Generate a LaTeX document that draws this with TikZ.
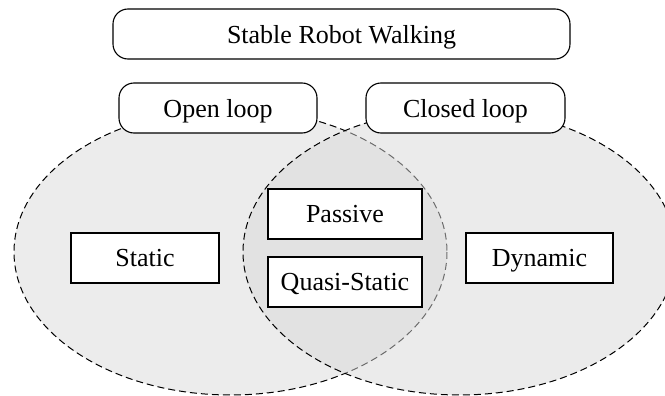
\documentclass[tikz,border=0pt]{standalone}
\usepackage{fontspec}
\setmainfont{Liberation Serif}
\definecolor{lgrey}{RGB}{236,236,236}
\begin{document}
\begin{tikzpicture}[x=0.5pt,y=-0.5pt,
  box/.style={draw,fill=white,line width=0.55pt,minimum height=25pt,inner sep=0pt,text depth=0pt,font=\fontsize{13}{15}\selectfont},
  rbox/.style={box,rounded corners=7.5pt},
  venn/.style={draw,dash pattern=on 3.5pt off 2pt,line width=0.5pt}]
\useasboundingbox (0,0) rectangle (665,396);
\clip (0,0) rectangle (665,396);
\fill[white] (0,0) rectangle (665,396);
\draw[venn,fill=lgrey] (230.5,252) ellipse [x radius=216.5, y radius=143];
\draw[venn,fill=black!15,fill opacity=0.5] (459.5,252) ellipse [x radius=216.5, y radius=143];
\node[rbox,minimum width=228.5pt] (top) at (341.5,34) {Stable Robot Walking};
\node[rbox,minimum width=99pt] (open) at (218,108) {Open loop};
\node[rbox,minimum width=99.5pt] (closed) at (465.5,108) {Closed loop};
\node[box,minimum width=74pt] (static) at (145,258) {Static};
\node[box,minimum width=77pt] (passive) at (345,214) {Passive};
\node[box,minimum width=77pt] (quasi) at (345,282) {Quasi-Static};
\node[box,minimum width=73.5pt] (dynamic) at (539.5,258) {Dynamic};
\end{tikzpicture}
\end{document}
